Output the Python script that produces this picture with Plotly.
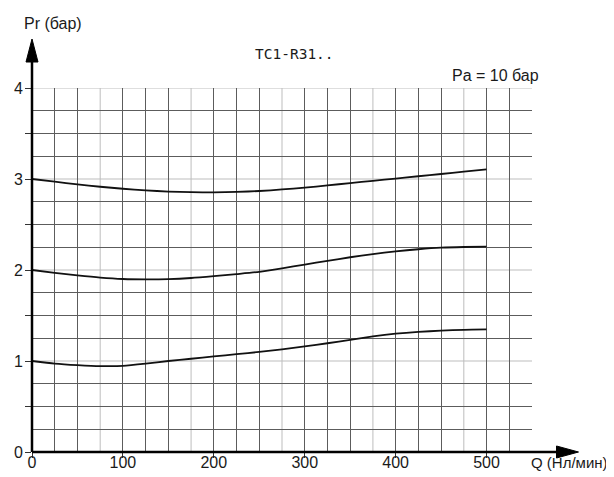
import plotly.graph_objects as go

# ---- data ----
q = [0, 25, 50, 75, 100, 125, 150, 175, 200, 225, 250, 275, 300, 325, 350, 375, 400, 425, 450, 475, 500]
pr_top = [3.0, 2.97, 2.94, 2.915, 2.893, 2.875, 2.862, 2.855, 2.853, 2.858, 2.868, 2.885, 2.905, 2.93, 2.955,
          2.98, 3.005, 3.03, 3.055, 3.08, 3.105]
pr_mid = [2.0, 1.968, 1.94, 1.916, 1.901, 1.897, 1.90, 1.912, 1.932, 1.955, 1.98, 2.018, 2.06, 2.10, 2.14,
          2.175, 2.205, 2.228, 2.245, 2.253, 2.256]
pr_bot = [1.0, 0.972, 0.955, 0.944, 0.946, 0.97, 1.0, 1.025, 1.05, 1.075, 1.1, 1.128, 1.16, 1.195, 1.232,
          1.27, 1.30, 1.32, 1.333, 1.343, 1.347]

x_labels = [0, 100, 200, 300, 400, 500]
y_ticks = [0, 0.5, 1, 1.5, 2, 2.5, 3, 3.5, 4]
y_ticktext = ["0", "", "1", "", "2", "", "3", "", "4"]
x_grid_all = list(range(0, 551, 25))
x_grid_light = [75, 175, 275, 375, 475]
y_grid_all = [i * 0.25 for i in range(17)]
y_grid_light = [1, 2, 3, 4]
x_range = [0, 550]
y_range = [0, 4]

title_text = "TC1-R31.."
pa_text = "Pa = 10 бар"
y_title = "Pr (бар)"
x_title = "Q (Нл/мин)"

DARK = "#5c5c5c"
LIGHT = "#bdbdbd"
FONT = "Liberation Sans, Arial, sans-serif"
TXT = "#1a1a1a"

fig = go.Figure()
for ys in (pr_top, pr_mid, pr_bot):
    fig.add_trace(go.Scatter(x=q, y=ys, mode="lines",
                             line=dict(color="#111111", width=1.8, shape="spline", smoothing=0.6),
                             showlegend=False, hoverinfo="skip"))
# invisible trace so the grid-only overlay axes exist
fig.add_trace(go.Scatter(x=[x_range[0]], y=[y_range[0]], xaxis="x2", yaxis="y2", mode="markers",
                         marker=dict(opacity=0), showlegend=False, hoverinfo="skip"))

shapes = []
for xv in x_grid_light:
    shapes.append(dict(type="line", xref="x", yref="y", x0=xv, x1=xv, y0=y_range[0], y1=y_range[1],
                       line=dict(color=LIGHT, width=1), layer="below"))
for yv in y_grid_light:
    shapes.append(dict(type="line", xref="x", yref="y", x0=x_range[0], x1=x_range[1], y0=yv, y1=yv,
                       line=dict(color=LIGHT, width=1), layer="below"))

# axes with arrows (paper coords)
shapes.append(dict(type="line", xref="paper", yref="paper", x0=0, x1=0, y0=0, y1=1.08,
                   line=dict(color="black", width=2.5), layer="above"))
shapes.append(dict(type="path", xref="paper", yref="paper",
                   path="M -0.012,1.0714 L 0,1.1346 L 0.012,1.0714 Z",
                   fillcolor="black", line=dict(color="black", width=1), layer="above"))
shapes.append(dict(type="line", xref="paper", yref="paper", x0=0, x1=1.055, y0=0, y1=0,
                   line=dict(color="black", width=2.5), layer="above"))
shapes.append(dict(type="path", xref="paper", yref="paper",
                   path="M 1.049,-0.0165 L 1.093,0 L 1.049,0.0165 Z",
                   fillcolor="black", line=dict(color="black", width=1), layer="above"))

ann_common = dict(xref="paper", yref="paper", showarrow=False, xanchor="center", yanchor="middle")
annotations = [
    dict(text=y_title, x=0.041, y=1.177, font=dict(family=FONT, size=16, color=TXT), **ann_common),
    dict(text=title_text, x=0.5245, y=1.093,
         font=dict(family="DejaVu Sans Mono, Liberation Mono, monospace", size=14.5, color=TXT), **ann_common),
    dict(text=pa_text, x=0.926, y=1.0357, font=dict(family=FONT, size=16, color=TXT), **ann_common),
    dict(text=x_title, x=1.074, y=-0.029, font=dict(family=FONT, size=15, color=TXT), **ann_common),
]

fig.update_layout(
    template="none",
    width=606, height=469,
    margin=dict(l=24, r=82, t=80, b=25, pad=0),
    paper_bgcolor="white", plot_bgcolor="white",
    shapes=shapes, annotations=annotations,
    xaxis=dict(range=x_range, tickmode="array", tickvals=x_labels, ticktext=[str(v) for v in x_labels],
               showgrid=False, zeroline=False, showline=False, ticks="outside", ticklen=5,
               tickcolor="#333", tickwidth=1, automargin=False, ticklabelstandoff=-9,
               tickfont=dict(family=FONT, size=16, color=TXT)),
    yaxis=dict(range=y_range, tickmode="array", tickvals=y_ticks, ticktext=y_ticktext,
               showgrid=False, zeroline=False, showline=False, ticks="outside", ticklen=6,
               tickcolor="#333", tickwidth=1, automargin=False, ticklabelstandoff=-1,
               tickfont=dict(family=FONT, size=16, color=TXT)),
    xaxis2=dict(range=x_range, overlaying="x", anchor="y", side="bottom",
                tickmode="array", tickvals=[v for v in x_grid_all if v not in x_grid_light],
                showticklabels=False, ticks="", showgrid=True, gridcolor=DARK, gridwidth=1,
                zeroline=False, showline=False, automargin=False),
    yaxis2=dict(range=y_range, overlaying="y", anchor="x", side="left",
                tickmode="array", tickvals=[v for v in y_grid_all if v not in y_grid_light],
                showticklabels=False, ticks="", showgrid=True, gridcolor=DARK, gridwidth=1,
                zeroline=False, showline=False, automargin=False),
)

fig.write_html("out.html")
